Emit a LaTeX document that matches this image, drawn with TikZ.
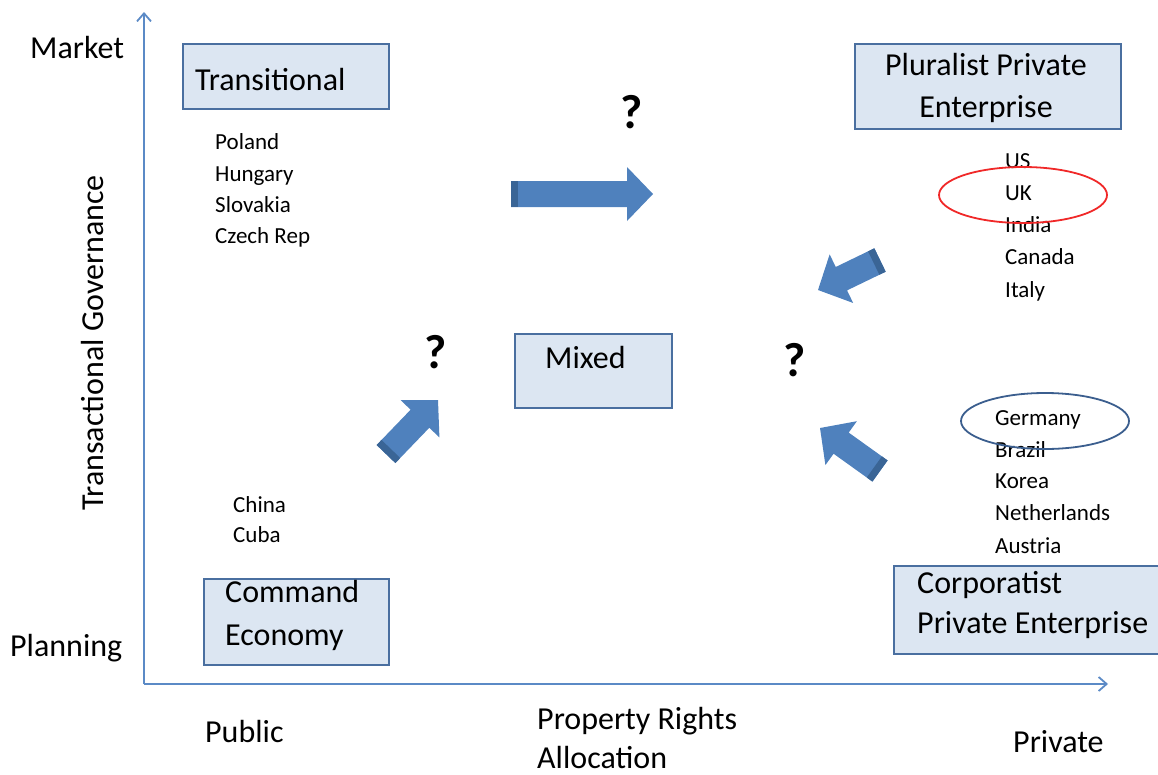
\documentclass[tikz,border=0pt]{standalone}
\usepackage{fontspec}
\setmainfont{Carlito}
\usetikzlibrary{calc,arrows.meta,shapes.geometric}
\definecolor{axisblue}{HTML}{5B8AC6}
\definecolor{boxfill}{HTML}{DCE6F2}
\definecolor{boxline}{HTML}{4A6FA0}
\definecolor{arrowblue}{HTML}{4F81BD}
\definecolor{arrowdark}{HTML}{3A6596}
\definecolor{ovalred}{HTML}{F02828}
\definecolor{ovalblue}{HTML}{3B5E8E}
\newcommand\blockarrow[3]{%
  \coordinate (#1n) at ($(#3)!26pt!(#2)$);
  \coordinate (#1s) at ($(#2)!7pt!(#3)$);
  \fill[arrowblue] ($(#2)!13pt!90:(#3)$) -- ($(#1n)!13pt!90:(#3)$) -- ($(#1n)!27pt!90:(#3)$) -- (#3)
     -- ($(#1n)!27pt!-90:(#3)$) -- ($(#1n)!13pt!-90:(#3)$) -- ($(#2)!13pt!-90:(#3)$) -- cycle;
  \fill[arrowdark] ($(#2)!13pt!90:(#3)$) -- ($(#1s)!13pt!90:(#3)$) -- ($(#1s)!13pt!-90:(#3)$) -- ($(#2)!13pt!-90:(#3)$) -- cycle;
}
\begin{document}
\begin{tikzpicture}[x=1pt,y=-1pt,
  big/.style={font=\fontsize{32}{40}\selectfont, anchor=base west, inner sep=0pt},
  small/.style={font=\fontsize{23}{27}\selectfont, anchor=base west, inner sep=0pt},
  qmark/.style={font=\fontsize{48}{52}\selectfont\bfseries, inner sep=0pt},
  box/.style={draw=boxline, fill=boxfill, line width=1.6pt, anchor=north west, inner sep=0pt},
  axis/.style={draw=axisblue, line width=1.8pt, -{Straight Barb[length=8pt,width=14pt]}},
  oval/.style={ellipse, line width=1.8pt, inner sep=0pt, minimum width=168pt, minimum height=56pt},
]
\useasboundingbox (0,0) rectangle (1158,774);
\clip (0,0) rectangle (1158,774);

% axes
\coordinate (origin) at (144,684);
\coordinate (ytop) at (144,12);
\coordinate (xend) at (1108,684);
\draw[axis] (origin) -- (ytop);
\draw[axis] (origin) -- (xend);

% boxes
\node[box, minimum width=206pt, minimum height=65pt] (transbox) at (182,43) {};
\node[box, minimum width=266pt, minimum height=85pt] (plurbox) at (854,43) {};
\node[box, minimum width=157pt, minimum height=74pt] (mixbox) at (514,333) {};
\node[box, minimum width=185pt, minimum height=86pt] (cmdbox) at (203,578) {};
\node[box, minimum width=275pt, minimum height=88pt] (corpbox) at (893,565) {};

% box texts
\node[big] (trans) at (195,90) {Transitional};
\node[big, anchor=base] (plur1) at (986,75) {Pluralist Private};
\node[big, anchor=base] (plur2) at (986,117) {Enterprise};
\node[big] (mixed) at (545,368) {Mixed};
\node[big] (cmd1) at (225,602) {Command};
\node[big] (cmd2) at (225,645) {Economy};
\node[big] (corp1) at (917,593) {Corporatist};
\node[big] (corp2) at (917,633) {Private Enterprise};

% axis labels
\node[big] (market) at (30,58) {Market};
\node[big] (planning) at (10,656) {Planning};
\node[big, anchor=base, rotate=90] (tg) at (103,343) {Transactional Governance};
\node[big] (public) at (205,742) {Public};
\node[big] (prop1) at (537,729) {Property Rights};
\node[big] (prop2) at (537,768) {Allocation};
\node[big] (private) at (1013,752) {Private};

% country lists
\node[small] (poland) at (215,149) {Poland};
\node[small] (hungary) at (215,181) {Hungary};
\node[small] (slovakia) at (215,212) {Slovakia};
\node[small] (czech) at (215,243) {Czech Rep};
\node[small] (china) at (233,512) {China};
\node[small] (cuba) at (233,542) {Cuba};
\node[small] (us) at (1005,168) {US};
\node[small] (uk) at (1005,200) {UK};
\node[small] (india) at (1005,232) {India};
\node[small] (canada) at (1005,264) {Canada};
\node[small] (italy) at (1005,297) {Italy};
\node[small] (germany) at (995,425) {Germany};
\node[small] (brazil) at (995,457) {Brazil};
\node[small] (korea) at (995,488) {Korea};
\node[small] (neth) at (995,520) {Netherlands};
\node[small] (austria) at (995,553) {Austria};

% ovals
\node[oval, draw=ovalred] (ukoval) at (1023,195) {};
\node[oval, draw=ovalblue] (deoval) at (1045,421) {};

% question marks
\node[qmark] (q1) at (632,112) {?};
\node[qmark] (q2) at (436,352) {?};
\node[qmark] (q3) at (795,360) {?};

% block arrows
\coordinate (a1t) at (511,194); \coordinate (a1h) at (653,194);
\coordinate (a2t) at (386,454); \coordinate (a2h) at (438,400);
\coordinate (a3t) at (880,260); \coordinate (a3h) at (818,290);
\coordinate (a4t) at (880,471); \coordinate (a4h) at (820,428);
\blockarrow{a1}{a1t}{a1h}
\blockarrow{a2}{a2t}{a2h}
\blockarrow{a3}{a3t}{a3h}
\blockarrow{a4}{a4t}{a4h}
\end{tikzpicture}
\end{document}
